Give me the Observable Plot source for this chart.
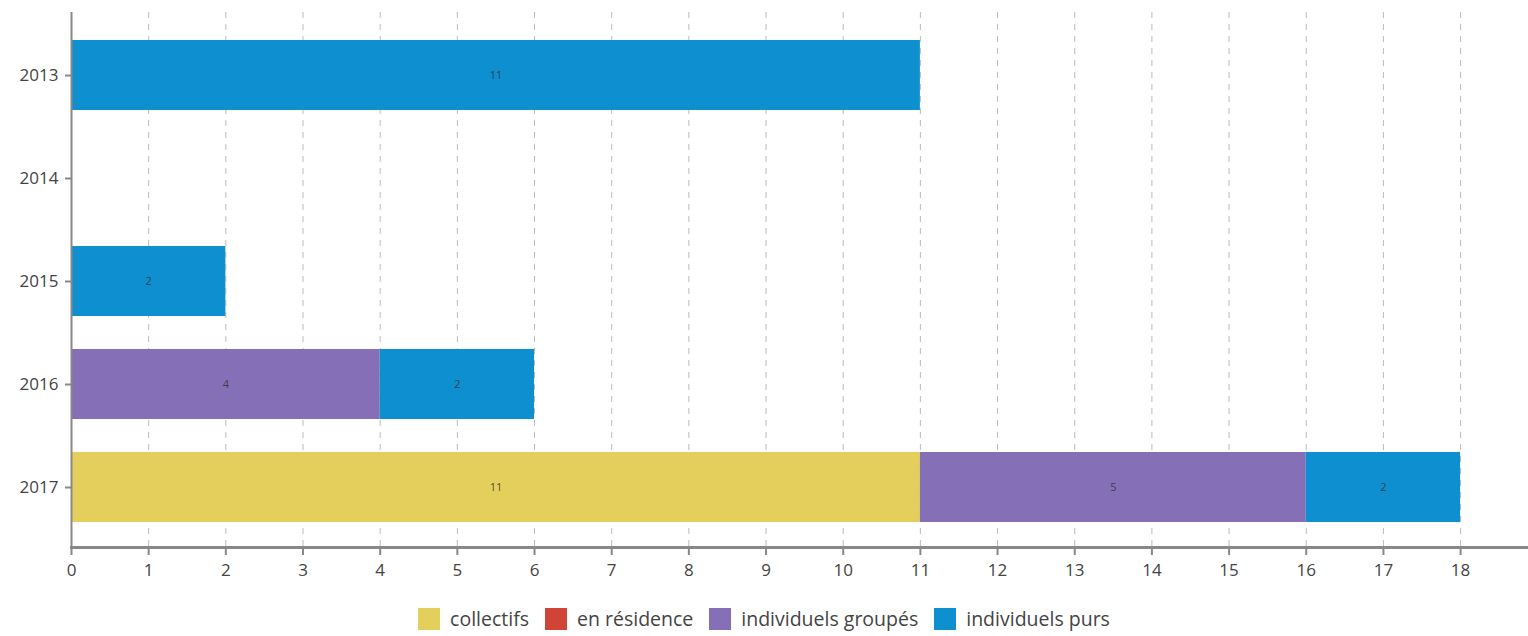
<!DOCTYPE html>
<html>
<head>
<meta charset="utf-8">
<script src="https://cdn.jsdelivr.net/npm/d3@7"></script>
<script src="https://cdn.jsdelivr.net/npm/@observablehq/plot@0.6"></script>
<style>
  html, body { margin: 0; padding: 0; background: #fff; }
  body { width: 1528px; height: 636px; overflow: hidden; font-family: "Open Sans", sans-serif; }
  #legend { display: flex; justify-content: center; align-items: center; height: 41px; padding-top: 3px; color: #444; font-size: 19.5px; }
  .item { display: flex; align-items: center; margin: 0 8px; }
  .sw { width: 22px; height: 22px; margin-right: 10px; }
</style>
</head>
<body>
<div id="chart"></div>
<div id="legend"></div>
<script>
const years = ["2013", "2014", "2015", "2016", "2017"];
const categories = ["collectifs", "en résidence", "individuels groupés", "individuels purs"];
const colors = ["#E4CE5C", "#D04436", "#856FB6", "#0E8FCF"];
const collectifs = [0, 0, 0, 0, 11];
const enResidence = [0, 0, 0, 0, 0];
const individuelsGroupes = [0, 0, 0, 4, 5];
const individuelsPurs = [11, 0, 2, 2, 2];
const xTicks = [0,1,2,3,4,5,6,7,8,9,10,11,12,13,14,15,16,17,18];

const series = [collectifs, enResidence, individuelsGroupes, individuelsPurs];
const data = [];
years.forEach((y, i) => {
  categories.forEach((c, j) => {
    data.push({year: y, category: c, value: series[j][i]});
  });
});

const plot = Plot.plot({
  width: 1528,
  height: 595,
  marginLeft: 71,
  marginRight: 0,
  marginTop: 12,
  marginBottom: 48,
  style: {fontFamily: "Open Sans, sans-serif", fontSize: "17px", color: "#444", background: "#fff"},
  x: {domain: [0, 18.88], label: null},
  y: {domain: years, paddingInner: 0.32, paddingOuter: 0.257, insetTop: 2, insetBottom: -2, label: null},
  color: {domain: categories, range: colors},
  marks: [
    Plot.gridX({ticks: xTicks.filter(d => d > 0), stroke: "#bbb", strokeOpacity: 1, strokeDasharray: "6,6"}),
    Plot.barX(data, Plot.stackX({x: "value", y: "year", fill: "category", order: categories})),
    Plot.text(data, Plot.stackX({x: "value", y: "year", z: "category", order: categories, text: d => d.value > 0 ? String(d.value) : "", fill: "#333", fillOpacity: 0.85, fontSize: 11})),
    Plot.axisX({ticks: xTicks, tickSize: 8, tickPadding: 8, stroke: "#888", strokeWidth: 2, fill: "#444", fontSize: 17, label: null}),
    Plot.axisY({tickSize: 6, tickPadding: 7, stroke: "#888", strokeWidth: 2, fill: "#444", fontSize: 17, label: null}),
    Plot.frame({anchor: "bottom", stroke: "#888", strokeWidth: 3}),
    Plot.ruleX([0], {stroke: "#888", strokeWidth: 2})
  ]
});
document.getElementById("chart").appendChild(plot);

const legend = document.getElementById("legend");
categories.forEach((c, i) => {
  const item = document.createElement("div");
  item.className = "item";
  const sw = document.createElement("div");
  sw.className = "sw";
  sw.style.background = colors[i];
  const t = document.createElement("span");
  t.textContent = c;
  item.appendChild(sw);
  item.appendChild(t);
  legend.appendChild(item);
});
</script>
</body>
</html>
